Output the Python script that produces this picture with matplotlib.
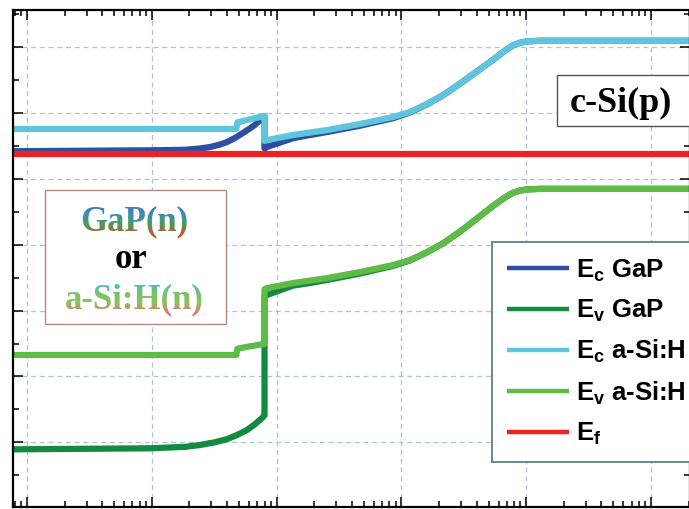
import numpy as np
import matplotlib
matplotlib.use('Agg')
import matplotlib.pyplot as plt
from matplotlib.ticker import LogLocator, MultipleLocator, NullFormatter
from matplotlib.transforms import Bbox, TransformedBbox
from matplotlib.colors import LinearSegmentedColormap
from matplotlib.patches import Rectangle

plt.rcParams['mathtext.fontset'] = 'custom'
plt.rcParams['mathtext.rm'] = 'Liberation Sans:bold'
plt.rcParams['mathtext.it'] = 'Liberation Sans:bold'
plt.rcParams['mathtext.bf'] = 'Liberation Sans:bold'

# ---------------- data (position in nm, energy in eV) ----------------
x_ec_gap = [0.0772, 0.967, 1.85, 2.43, 2.93, 3.52, 4.01, 4.64, 5.38, 6.13, 6.72, 7.37, 7.9, 8.0,
            8.0, 8.37, 13.5, 18.5, 25.4, 46.6, 85.7, 117, 160, 215, 295, 404, 542, 676, 784, 892,
            1015, 1291, 20540]
e_ec_gap = [0.211, 0.218, 0.222, 0.232, 0.243, 0.262, 0.281, 0.312, 0.350, 0.385, 0.412, 0.448, 0.474, 0.478,
            0.232, 0.243, 0.310, 0.334, 0.357, 0.405, 0.462, 0.505, 0.568, 0.635, 0.725, 0.818, 0.905,
            0.975, 1.015, 1.035, 1.046, 1.050, 1.050]

x_ev_gap = [0.0772, 0.967, 1.85, 2.43, 3.21, 4.01, 4.82, 5.80, 6.72, 7.78, 8.0,
            8.0, 8.37, 13.5, 18.5, 25.4, 46.6, 85.7, 117, 160, 215, 295, 404, 542, 676, 784, 892,
            1015, 1291, 20540]
e_ev_gap = [-2.054, -2.046, -2.035, -2.021, -2.000, -1.976, -1.945, -1.907, -1.862, -1.809, -1.795,
            -0.890, -0.881, -0.810, -0.790, -0.767, -0.718, -0.660, -0.619, -0.557, -0.490, -0.400,
            -0.300, -0.205, -0.140, -0.105, -0.088, -0.079, -0.075, -0.075]

x_ec_asi = [0.0772, 4.75, 4.85, 6.0, 7.9, 8.0,
            8.0, 8.37, 13.5, 25.4, 46.6, 85.7, 117, 160, 215, 295, 404, 542, 676, 784, 892,
            1015, 1291, 20540]
e_ec_asi = [0.380, 0.380, 0.430, 0.452, 0.478, 0.480,
            0.289, 0.296, 0.334, 0.372, 0.418, 0.471, 0.509, 0.570, 0.635, 0.725, 0.818, 0.905,
            0.975, 1.015, 1.035, 1.046, 1.050, 1.050]

x_ev_asi = [0.0772, 4.75, 4.85, 6.0, 7.9, 8.0,
            8.0, 8.37, 13.5, 25.4, 46.6, 85.7, 117, 160, 215, 295, 404, 542, 676, 784, 892,
            1015, 1291, 20540]
e_ev_asi = [-1.337, -1.337, -1.290, -1.272, -1.254, -1.252,
            -0.838, -0.829, -0.791, -0.753, -0.707, -0.654, -0.616, -0.557, -0.490, -0.400, -0.300,
            -0.205, -0.140, -0.105, -0.088, -0.079, -0.075, -0.075]

x_ef = [0.0772, 20540]
e_ef = [0.19, 0.19]

labels = [r'$\mathrm{E_c}$ GaP', r'$\mathrm{E_v}$ GaP', r'$\mathrm{E_c}$ a-Si:H',
          r'$\mathrm{E_v}$ a-Si:H', r'$\mathrm{E_f}$']
colors = ['#2f4ea2', '#138a3f', '#5ec5df', '#5dbb46', '#ed2224']

x_range = (0.0772, 20540)
e_range = (-2.492, 1.284)

# ---------------- figure ----------------
W, H = 689, 509
fig = plt.figure(figsize=(W / 100, H / 100), dpi=100)
ax = fig.add_axes([13 / W, 2 / H, 677 / W, 497 / H])

series = [(x_ec_gap, e_ec_gap), (x_ev_gap, e_ev_gap), (x_ec_asi, e_ec_asi),
          (x_ev_asi, e_ev_asi), (x_ef, e_ef)]
for (xs, es), c, lab in zip(series, colors, labels):
    ax.plot(xs, es, color=c, lw=4.5, label=lab, solid_joinstyle='round', solid_capstyle='butt')

ax.set_xscale('log')
ax.set_xlim(*x_range)
ax.set_ylim(*e_range)
ax.xaxis.set_major_locator(LogLocator(base=10, numticks=20))
ax.xaxis.set_minor_locator(LogLocator(base=10, subs=np.arange(2, 10), numticks=50))
ax.xaxis.set_minor_formatter(NullFormatter())
ax.yaxis.set_major_locator(MultipleLocator(0.5))
ax.yaxis.set_minor_locator(MultipleLocator(0.25))
ax.tick_params(which='both', direction='in', top=True, right=True,
               labelbottom=False, labelleft=False, width=1.1, color='black')
ax.tick_params(which='major', length=7.5)
ax.tick_params(which='minor', length=4)
for sp in ax.spines.values():
    sp.set_linewidth(1.6)
ax.set_axisbelow(True)
ax.grid(which='major', color='#a6c6da', ls=(0, (4, 3)), lw=0.9)

leg = ax.legend(loc='upper left', bbox_to_anchor=(492 / W, (H - 242) / H),
                bbox_transform=fig.transFigure, borderaxespad=0, fancybox=False,
                framealpha=1, edgecolor='#6a8592', handlelength=2.4, handletextpad=0.25,
                borderpad=0.6, labelspacing=0.55,
                prop={'family': 'Liberation Sans', 'weight': 'bold', 'size': 18.5})
leg.get_frame().set_linewidth(1.4)
for l in leg.get_lines():
    l.set_linewidth(3.2)


def fx(px):
    return px / W


def fy(py):
    return (H - py) / H


# boxes
fig.add_artist(Rectangle((fx(45), fy(324)), (226 - 45) / W, (324 - 190) / H, transform=fig.transFigure,
                         facecolor='white', edgecolor='#b08a80', lw=1.0, zorder=5))
fig.add_artist(Rectangle((fx(557), fy(126)), (690 - 557) / W, (126 - 75) / H, transform=fig.transFigure,
                         facecolor='white', edgecolor='#555555', lw=1.0, zorder=5))


def gradient_text(xc, ybase, s, stops, ytop, ybot, size, n=16):
    cmap = LinearSegmentedColormap.from_list('g', stops)
    edges = np.linspace(ytop, ybot, n + 1)
    for i in range(n):
        t = fig.text(fx(xc), fy(ybase), s, ha='center', va='baseline', fontsize=size,
                     fontweight='bold', family='Liberation Serif', color=cmap((i + 0.5) / n), zorder=6)
        top = -100 if i == 0 else edges[i]
        bot = H + 100 if i == n - 1 else edges[i + 1]
        bb = Bbox.from_extents(0, (H - bot) / H, 1, (H - top) / H)
        t.set_clip_box(TransformedBbox(bb, fig.transFigure))


gradient_text(134, 230, 'GaP(n)', ['#3878c8', '#3f8fa0', '#4f9a55', '#d2482f'], 205, 236, 25)
fig.text(fx(131), fy(268), 'or', ha='center', va='baseline', fontsize=25, fontweight='bold',
         family='Liberation Serif', color='black', zorder=6)
gradient_text(134, 308, 'a-Si:H(n)', ['#4cb9d2', '#7cc062', '#8cc25e', '#e86a6e'], 283, 314, 25)

fig.text(fx(621), fy(112), 'c-Si(p)', ha='center', va='baseline', fontsize=26, fontweight='bold',
         family='Liberation Serif', color='black', zorder=6)

fig.savefig('out.png', dpi=100)
